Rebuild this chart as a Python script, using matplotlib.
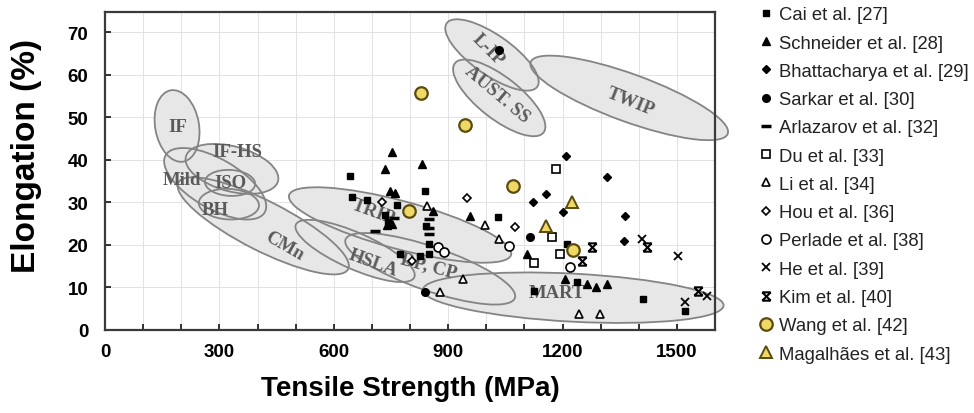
import numpy as np
import matplotlib
matplotlib.use('Agg')
import matplotlib.pyplot as plt
from matplotlib.patches import Ellipse
from matplotlib.path import Path
from matplotlib.transforms import Affine2D

# %%
# data: (tensile strength MPa, elongation %)
cai_ts = [643, 647, 687, 765, 735, 840, 743, 843, 849, 849, 774, 827, 1031, 1213, 1239, 1124, 1410, 1520]
cai_el = [36.2, 31.2, 30.5, 29.3, 27.1, 32.7, 25.4, 24.5, 20.2, 17.8, 17.9, 17.4, 26.6, 20.3, 11.3, 9.2, 7.3, 4.5]

schneider_ts = [753, 735, 832, 748, 761, 739, 753, 861, 958, 1107, 1207, 1265, 1289, 1318]
schneider_el = [41.9, 37.9, 39.0, 32.6, 32.2, 24.8, 25.0, 28.0, 26.8, 17.9, 12.0, 10.8, 10.1, 10.8]

bhatt_ts = [1210, 1318, 1157, 1123, 1202, 1365, 1360]
bhatt_el = [41.0, 36.0, 32.0, 30.0, 27.8, 26.8, 21.0]

sarkar_ts = [1034, 840, 1115]
sarkar_el = [65.8, 8.9, 21.9]

arlaz_ts = [757, 709, 849, 849, 849]
arlaz_el = [26.4, 23.4, 26.0, 24.0, 22.5]

du_ts = [1184, 1173, 1194, 1126]
du_el = [37.9, 21.9, 17.9, 15.8]

li_ts = [844, 997, 1034, 940, 879, 1244, 1299]
li_el = [29.1, 24.7, 21.4, 12.0, 8.9, 3.8, 3.8]

hou_ts = [726, 949, 1076, 805]
hou_el = [30.1, 31.0, 24.2, 16.3]

perlade_ts = [1060, 874, 888, 1220]
perlade_el = [19.8, 19.5, 18.4, 14.8]

he_ts = [1409, 1504, 1580, 1522]
he_el = [21.4, 17.4, 8.0, 6.6]

kim_ts = [1422, 1278, 1252, 1556]
kim_el = [19.5, 19.5, 16.3, 9.2]

wang_ts = [829, 943, 798, 1071, 1228]
wang_el = [55.7, 48.2, 28.0, 33.9, 18.8]

magal_ts = [1226, 1157]
magal_el = [30.1, 24.5]

# steel families: name, centre TS, centre El, length, thickness (MPa-equivalent), angle
regions = [
    ('Mild', 289, 34.4, 300, 130, -30),
    ('IF-HS', 333, 37.9, 250, 118, -15),
    ('CMn', 415, 24.5, 500, 130, -27),
    ('HSLA', 656, 18.6, 340, 95, -24),
    ('TRIP', 774, 24.7, 603, 126, -15),
    ('DP, CP', 853, 14.4, 470, 115, -19),
    ('MART', 1228, 7.6, 790, 126, -3),
    ('BH', 325, 29.6, 158, 80, -3),
    ('ISO', 328, 34.6, 132, 68, -3),
    ('IF', 189, 48.0, 190, 115, 100),
    ('L-IP', 1015, 64.7, 290, 105, -35),
    ('AUST. SS', 1034, 54.6, 295, 110, -38),
    ('TWIP', 1375, 54.6, 550, 125, -20),
]

# label: text, TS, El, rotation
region_labels = [
    ('IF', 191, 47.8, 0),
    ('IF-HS', 347, 41.9, 0),
    ('Mild', 202, 35.5, 0),
    ('ISO', 328, 34.8, 0),
    ('BH', 289, 28.3, 0),
    ('CMn', 470, 19.8, -30),
    ('HSLA', 703, 16.0, -20),
    ('TRIP', 703, 27.8, -20),
    ('DP, CP', 848, 15.1, -15),
    ('MART', 1186, 8.9, 0),
    ('L-IP', 1005, 66.1, -45),
    ('AUST. SS', 1029, 55.5, -40),
    ('TWIP', 1378, 53.9, -22),
]

# %%
kim_marker = Path([(-1, 1), (1, -1), (1, 1), (-1, -1), (-1, 1), (1, 1), (-1, -1), (1, -1)],
                  [Path.MOVETO, Path.LINETO, Path.MOVETO, Path.LINETO,
                   Path.MOVETO, Path.LINETO, Path.MOVETO, Path.LINETO])

fig = plt.figure(figsize=(9.74, 4.14), dpi=100)
ax = fig.add_axes([0.1078, 0.2005, 0.6263, 0.768])
ax.set_xlim(0, 1600)
ax.set_ylim(0, 74.8)

# scale so ellipses are drawn in screen proportions
bb = ax.get_position()
aspect = (bb.height * 414 / 74.8) / (bb.width * 974 / 1600)
tr = Affine2D().scale(1, 1 / aspect) + ax.transData

for name, cx, cy, w, h, ang in regions:
    ax.add_patch(Ellipse((cx, cy * aspect), w, h, angle=ang, transform=tr,
                         facecolor='#e7e7e7', edgecolor='none', zorder=1, clip_on=False))
for name, cx, cy, w, h, ang in regions:
    ax.add_patch(Ellipse((cx, cy * aspect), w, h, angle=ang, transform=tr,
                         facecolor='none', edgecolor='#848484', lw=1.3, zorder=2, clip_on=False))

for txt, x, y, rot in region_labels:
    ax.text(x, y, txt, rotation=rot, ha='center', va='center', fontsize=13.5,
            family='Liberation Serif', fontweight='bold', color='#5a5a5a', zorder=3)

ms = 5
ax.plot(cai_ts, cai_el, 's', color='k', ms=ms, ls='none', zorder=5, label='Cai et al. [27]')
ax.plot(schneider_ts, schneider_el, '^', color='k', ms=ms + 0.5, ls='none', zorder=5, label='Schneider et al. [28]')
ax.plot(bhatt_ts, bhatt_el, 'D', color='k', ms=ms - 0.5, ls='none', zorder=5, label='Bhattacharya et al. [29]')
ax.plot(sarkar_ts, sarkar_el, 'o', color='k', ms=ms + 0.5, ls='none', zorder=5, label='Sarkar et al. [30]')
ax.plot(arlaz_ts, arlaz_el, '_', color='k', ms=7, mew=2.5, ls='none', zorder=5, label='Arlazarov et al. [32]')
ax.plot(du_ts, du_el, 's', mfc='white', mec='k', mew=1.2, ms=ms + 1, ls='none', zorder=5, label='Du et al. [33]')
ax.plot(li_ts, li_el, '^', mfc='white', mec='k', mew=1.2, ms=ms + 1, ls='none', zorder=5, label='Li et al. [34]')
ax.plot(hou_ts, hou_el, 'D', mfc='white', mec='k', mew=1.2, ms=ms - 0.5, ls='none', zorder=5, label='Hou et al. [36]')
ax.plot(perlade_ts, perlade_el, 'o', mfc='white', mec='k', mew=1.2, ms=ms + 1.5, ls='none', zorder=5, label='Perlade et al. [38]')
ax.plot(he_ts, he_el, 'x', color='k', ms=ms + 1, mew=1.3, ls='none', zorder=5, label='He et al. [39]')
ax.plot(kim_ts, kim_el, marker=kim_marker, color='k', ms=ms + 1, mew=1.5, ls='none', zorder=5, label='Kim et al. [40]')
ax.plot(wang_ts, wang_el, 'o', mfc='#f0d864', mec='#5a4a10', mew=1.6, ms=9, ls='none', zorder=6, label='Wang et al. [42]')
ax.plot(magal_ts, magal_el, '^', mfc='#f0d864', mec='#5a4a10', mew=1.4, ms=9, ls='none', zorder=6, label='Magalhães et al. [43]')

# axes styling
ax.set_xticks(range(0, 1601, 100))
ax.set_xticklabels([str(v) if v % 300 == 0 and v < 1600 else '' for v in range(0, 1601, 100)])
ax.set_yticks(range(0, 71, 10))
ax.grid(True, color='#e2e2e2', lw=0.7, zorder=0)
ax.set_axisbelow(True)
ax.tick_params(direction='in', length=4, width=1.3, color='#222222', labelsize=13.5)
ax.tick_params(axis='x', pad=9.5)
ax.tick_params(axis='y', pad=12)
for lab in ax.get_xticklabels() + ax.get_yticklabels():
    lab.set_fontweight('bold')
    lab.set_family('Liberation Sans')
for s in ax.spines.values():
    s.set_color('#3a3a3a')
    s.set_linewidth(1.6)

ax.set_xlabel('Tensile Strength (MPa)', fontsize=20, fontweight='bold', family='Liberation Sans')
ax.set_ylabel('Elongation (%)', fontsize=24, fontweight='bold', family='Liberation Sans')
ax.xaxis.set_label_coords(0.5, -0.14)
ax.yaxis.set_label_coords(-0.103, 0.55)

fig.legend(loc='upper left', bbox_to_anchor=(0.781, 0.9823), frameon=False,
           prop={'family': 'Liberation Sans', 'size': 13.3}, labelspacing=0.61,
           handlelength=0.6, handletextpad=0.4, borderaxespad=0, borderpad=0,
           labelcolor='#222222')

plt.savefig('out.png', dpi=100)
